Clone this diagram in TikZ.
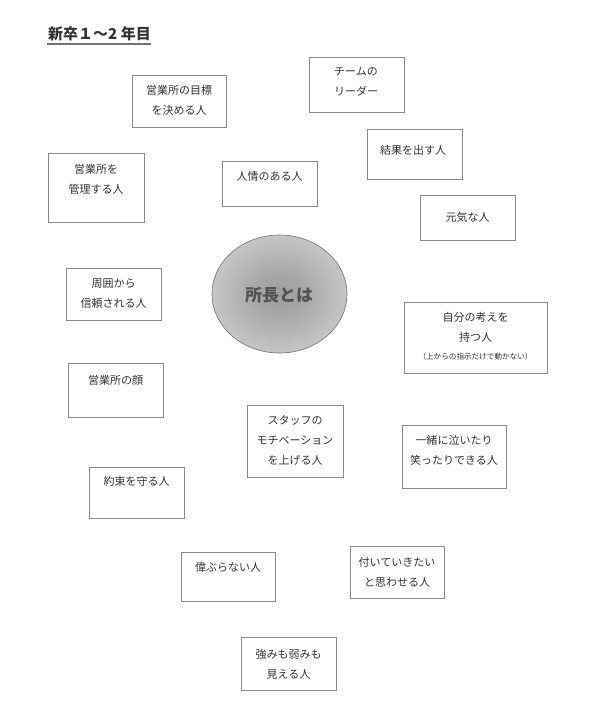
\documentclass[tikz,border=0pt]{standalone}
\usepackage{fontspec}
\newfontfamily\jp{Noto Sans CJK JP}
\usetikzlibrary{shapes.geometric}
\definecolor{txt}{HTML}{333333}
\definecolor{frame}{HTML}{8A8A8A}
\pgfdeclareradialshading{myball}{\pgfpoint{0bp}{0bp}}{color(0bp)=(black!38); color(8bp)=(black!35); color(40bp)=(black!12); color(70bp)=(black!10)}
\tikzset{
  box/.style={draw=frame, line width=0.8pt, fill=white, inner sep=0pt},
  label/.style={font=\jp\fontsize{11}{20}\selectfont, text=txt, align=center, inner sep=0pt},
  small/.style={font=\jp\fontsize{7.6}{10}\selectfont, text=txt, inner sep=0pt},
}
\begin{document}
\begin{tikzpicture}[x=1pt,y=-1pt]
\useasboundingbox[fill=white] (0,0) rectangle (591,725);
% title
\node[font=\jp\bfseries\fontsize{15}{18}\selectfont, text=txt, anchor=west, inner sep=0pt] (title) at (48,34) {新卒１～2 年目};
\draw[black!55, line width=2pt] (title.south west) ++(-1,3) coordinate (ul1) -- (title.south east |- ul1) coordinate (ul2);
% centre ellipse
\node[ellipse, draw=black!55, line width=0.6pt, shading=myball, minimum width=135pt, minimum height=118pt, inner sep=0pt] (c) at (279.5,294) {};
\node[font=\jp\bfseries\fontsize{17}{20}\selectfont, text=black!68, inner sep=0pt] (ct) at (279,295) {所長とは};
% boxes
\node[box, minimum width=94pt, minimum height=52pt] (b1) at (179,101) {};
\node[label] (t1) at (179,100) {営業所の目標\\を決める人};
\node[box, minimum width=95pt, minimum height=55pt] (b2) at (356.5,84.5) {};
\node[label] (t2) at (356,82) {チームの\\リーダー};
\node[box, minimum width=95pt, minimum height=50pt] (b3) at (414.5,154) {};
\node[label] (t3) at (413,150) {結果を出す人};
\node[box, minimum width=96pt, minimum height=69pt] (b4) at (96,187.5) {};
\node[label] (t4) at (96,179) {営業所を\\管理する人};
\node[box, minimum width=95pt, minimum height=45pt] (b5) at (269.5,183.5) {};
\node[label] (t5) at (269.5,176) {人情のある人};
\node[box, minimum width=95pt, minimum height=45pt] (b6) at (467.5,217.5) {};
\node[label] (t6) at (467.5,217) {元気な人};
\node[box, minimum width=95pt, minimum height=52pt] (b7) at (113.5,294) {};
\node[label] (t7) at (113.5,293.5) {周囲から\\信頼される人};
\node[box, minimum width=143pt, minimum height=71pt] (b9) at (475.5,337.5) {};
\node[label] (t9) at (475.5,327.5) {自分の考えを\\持つ人};
\node[small] (t9b) at (475.5,357) {（上からの指示だけで動かない）};
\node[box, minimum width=95pt, minimum height=54pt] (b10) at (115.5,390) {};
\node[label] (t10) at (115.5,380) {営業所の顔};
\node[box, minimum width=96pt, minimum height=72pt] (b11) at (295,441) {};
\node[label] (t11) at (295,440) {スタッフの\\モチベーション\\を上げる人};
\node[box, minimum width=104pt, minimum height=63pt] (b12) at (454,456.5) {};
\node[label] (t12) at (454,450) {一緒に泣いたり\\笑ったりできる人};
\node[box, minimum width=95pt, minimum height=51pt] (b13) at (136.5,492.5) {};
\node[label] (t13) at (136.5,481) {約束を守る人};
\node[box, minimum width=94pt, minimum height=49pt] (b14) at (228,576.5) {};
\node[label] (t14) at (228,567) {偉ぶらない人};
\node[box, minimum width=94pt, minimum height=52pt] (b15) at (397,572) {};
\node[label] (t15) at (397,572) {付いていきたい\\と思わせる人};
\node[box, minimum width=95pt, minimum height=53pt] (b16) at (288.5,663.5) {};
\node[label] (t16) at (288.5,664) {強みも弱みも\\見える人};
\end{tikzpicture}
\end{document}
